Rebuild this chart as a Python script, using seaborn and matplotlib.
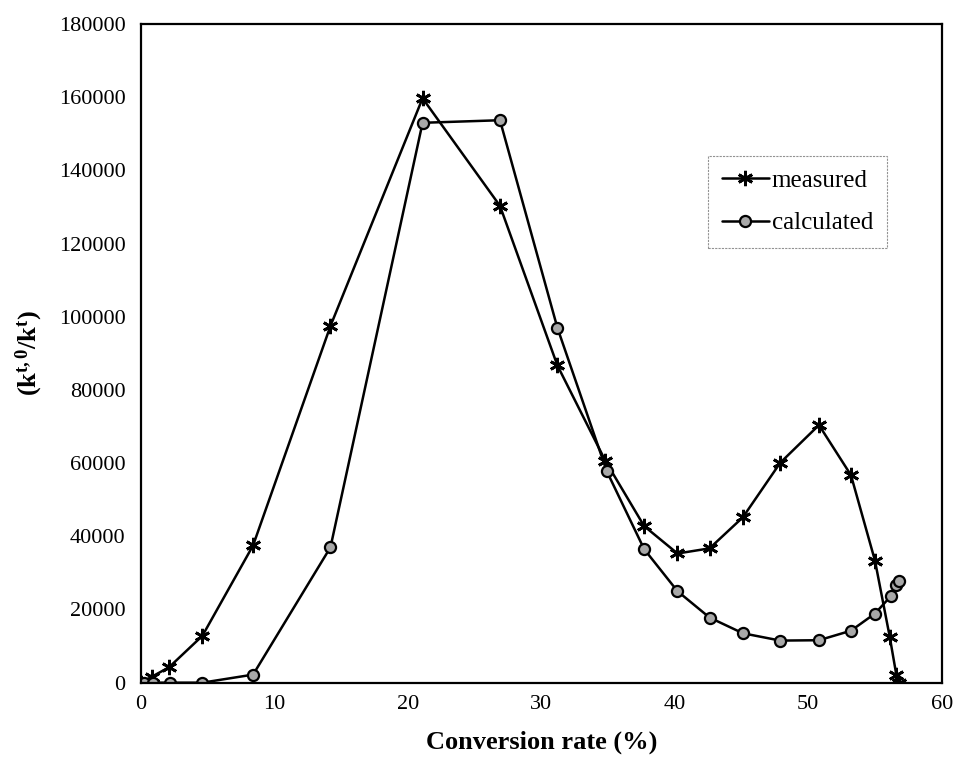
import matplotlib
matplotlib.use("Agg")
import matplotlib.pyplot as plt
import seaborn as sns
import pandas as pd

conversion = [0, 0.8, 2.1, 4.6, 8.4, 14.2, 21.1, 26.9, 31.2, 34.8, 37.7, 40.2,
              42.6, 45.1, 47.9, 50.8, 53.2, 55.0, 56.1, 56.6, 56.8]
measured = [0, 1600, 4200, 12800, 37500, 97500, 159700, 130300, 86700, 60600, 42800,
            35300, 36700, 45200, 60100, 70400, 56700, 33300, 12600, 2100, 0]
calc_x = [0.2, 0.9, 2.2, 4.6, 8.4, 14.2, 21.1, 26.9, 31.2, 34.9, 37.7, 40.2,
          42.6, 45.1, 47.9, 50.8, 53.2, 55.0, 56.2, 56.6, 56.8]
calculated = [0, 0, 0, 0, 2200, 37000, 153000, 153700, 97000, 57800, 36500, 25000,
              17800, 13500, 11500, 11600, 14200, 18900, 23700, 26700, 27900]

xticks = [0, 10, 20, 30, 40, 50, 60]
yticks = [0, 20000, 40000, 60000, 80000, 100000, 120000, 140000, 160000, 180000]

sns.set_theme(style="white")
plt.rcParams['font.family'] = ['Liberation Serif', 'DejaVu Serif']
plt.rcParams['mathtext.fontset'] = 'custom'
plt.rcParams['mathtext.rm'] = 'Liberation Serif:bold'
plt.rcParams['mathtext.it'] = 'Liberation Serif:bold'
plt.rcParams['mathtext.bf'] = 'Liberation Serif:bold'
plt.rcParams['text.color'] = 'black'
plt.rcParams['axes.labelcolor'] = 'black'
plt.rcParams['xtick.color'] = 'black'
plt.rcParams['ytick.color'] = 'black'

df_m = pd.DataFrame({"x": conversion, "y": measured})
df_c = pd.DataFrame({"x": calc_x, "y": calculated})

fig = plt.figure(figsize=(9.59, 7.74), dpi=100)
ax = fig.add_axes([0.147, 0.118, 0.835, 0.851])

sns.lineplot(data=df_m, x="x", y="y", ax=ax, color="black", linewidth=1.8,
             marker=(6, 2, 0), markersize=11, markeredgewidth=2.0,
             markeredgecolor="black", estimator=None, sort=False, label="measured")
sns.lineplot(data=df_c, x="x", y="y", ax=ax, color="black", linewidth=1.8,
             marker="o", markersize=8, markerfacecolor="#a8a8a8",
             markeredgecolor="black", markeredgewidth=1.6,
             estimator=None, sort=False, label="calculated")

ax.set_xlim(0, 60)
ax.set_ylim(0, 180000)
ax.set_xticks(xticks)
ax.set_yticks(yticks)
ax.set_xticklabels([str(t) for t in xticks], fontsize=16, color="black")
ax.set_yticklabels([str(t) for t in yticks], fontsize=16, color="black")
ax.tick_params(axis="x", direction="in", length=6, width=1, pad=9, colors="black")
ax.tick_params(axis="y", direction="inout", length=12, width=1, pad=5, colors="black")
for s in ax.spines.values():
    s.set_color("black")
    s.set_linewidth(1.6)

ax.set_xlabel("Conversion rate (%)", fontsize=19, fontweight="bold", labelpad=12,
              color="black")
ax.set_ylabel("(k$^{t,0}$/k$^{t}$)", fontsize=19, fontweight="bold", labelpad=10,
              color="black")

leg = ax.legend(loc="upper left", bbox_to_anchor=(0.708, 0.80), fontsize=18,
                frameon=True, fancybox=False, handlelength=1.9,
                borderpad=0.55, labelspacing=0.8, handletextpad=0.1,
                borderaxespad=0.0)
leg.get_frame().set_edgecolor("#777777")
leg.get_frame().set_linestyle((0, (2, 1)))
leg.get_frame().set_linewidth(0.8)
for t in leg.get_texts():
    t.set_color("black")

fig.savefig("out.png", dpi=100, facecolor="white")
